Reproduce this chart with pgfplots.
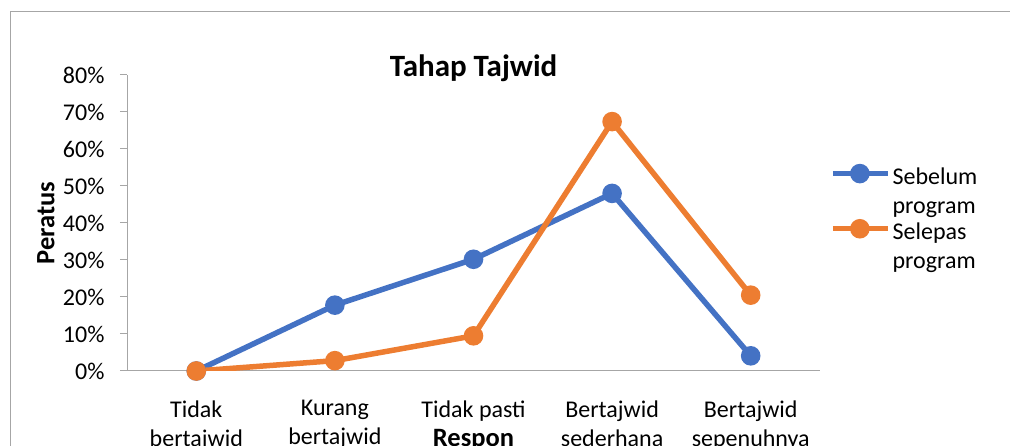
\documentclass[border=0pt]{standalone}
\usepackage{pgfplots}
\pgfplotsset{compat=1.18}
\usepackage{fontspec}
\setmainfont{Carlito}
\definecolor{sblue}{HTML}{4472C4}
\definecolor{sorange}{HTML}{ED7D31}
\definecolor{axgray}{HTML}{A6A6A6}
\begin{document}
\begin{tikzpicture}[x=1pt,y=1pt]
\useasboundingbox (0,0) rectangle (1010,446);
\clip (0,0) rectangle (1010,446);
\draw[axgray, line width=1pt] (10,-20) -- (10,434) -- (1030,434);
\begin{axis}[
  at={(127pt,75pt)}, anchor=south west,
  scale only axis, width=693pt, height=296pt,
  xmin=-0.5, xmax=4.5, ymin=0, ymax=80,
  axis lines*=left,
  axis line style={axgray, line width=1pt},
  every tick/.style={axgray, line width=1pt},
  tick align=outside,
  xtick={0,1,2,3,4},
  xticklabels={{Tidak\\bertajwid},{Kurang\\bertajwid},{Tidak pasti\\\hphantom{x}},{Bertajwid\\sederhana},{Bertajwid\\sepenuhnya}},
  x tick label style={align=center, font=\fontsize{24}{29}\selectfont, yshift=-19pt},
  extra x ticks={-0.5,0.5,1.5,2.5,3.5,4.5},
  extra x tick labels={},
  extra x tick style={major tick length=6pt, tick align=outside},
  xtick style={draw=none},
  ytick={0,10,...,80},
  yticklabel={\pgfmathprintnumber{\tick}\%},
  y tick label style={font=\fontsize{24}{29}\selectfont, xshift=-12pt},
  /pgf/number format/assume math mode=true,
  major tick length=7pt,
  title={\bfseries Tahap Tajwid},
  title style={font=\fontsize{31}{35}\selectfont\bfseries, at={(axis description cs:0.5,1.003)}, anchor=center},
  xlabel={Respon},
  xlabel style={font=\fontsize{26.5}{30}\selectfont\bfseries, at={(axis description cs:0.5,-0.255)}, anchor=base},
  ylabel={Peratus},
  ylabel style={font=\fontsize{26.5}{30}\selectfont\bfseries, at={(axis description cs:-0.117,0.5)}, anchor=center, rotate=0},
  legend style={draw=none, fill=none, at={(axis description cs:1.01,0.70)}, anchor=north west,
    font=\fontsize{24}{29}\selectfont, nodes={align=left}, row sep=4pt},
  legend cell align=left,
  legend image code/.code={\draw[mark repeat=2,mark phase=2] plot coordinates {(0pt,18pt)(27pt,18pt)(55pt,18pt)};},
]
\addplot[sblue, line width=5.5pt, mark=*, mark size=7pt, mark options={solid, fill=sblue}]
  coordinates {(0,0) (1,17.8) (2,30.2) (3,48.0) (4,4.1)};
\addlegendentry{Sebelum\\program}
\addplot[sorange, line width=5.5pt, mark=*, mark size=7pt, mark options={solid, fill=sorange}]
  coordinates {(0,0) (1,2.8) (2,9.5) (3,67.4) (4,20.5)};
\addlegendentry{Selepas\\program}
\end{axis}
\end{tikzpicture}
\end{document}
